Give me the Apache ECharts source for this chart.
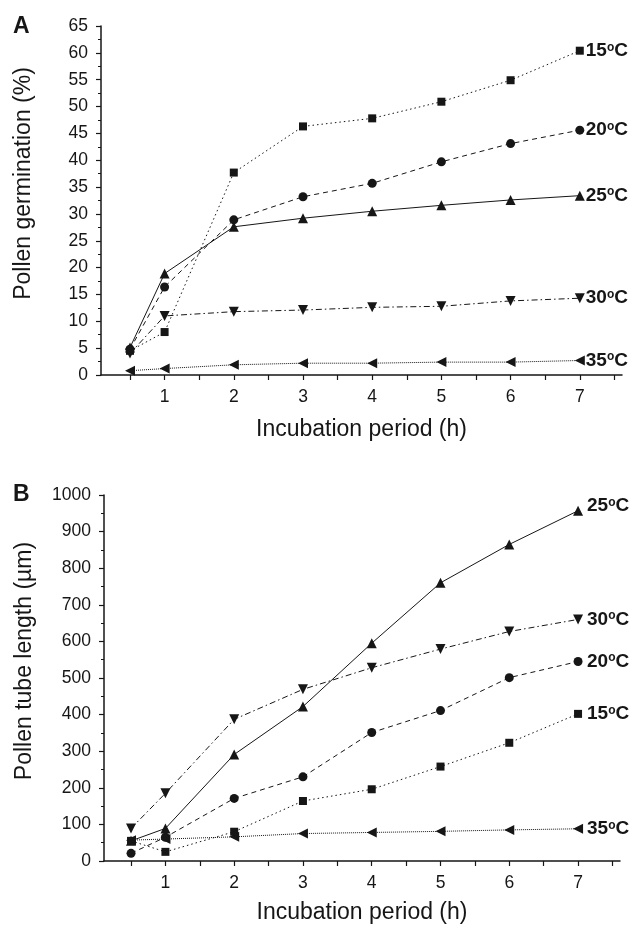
<!DOCTYPE html>
<html>
<head>
<meta charset="utf-8">
<script src="https://cdn.jsdelivr.net/npm/echarts@6/dist/echarts.min.js"></script>
<style>
  html, body { margin: 0; background: #fff; }
  #chart { width: 630px; height: 927px; }
</style>
</head>
<body>
<div id="chart"></div>
<script>
// incubation hours
const hours = [0.5, 1, 2, 3, 4, 5, 6, 7];
const xTicks = [0.5, 1, 1.5, 2, 2.5, 3, 3.5, 4, 4.5, 5, 5.5, 6, 6.5, 7, 7.5];
const xLabels = [1, 2, 3, 4, 5, 6, 7];

// A: pollen germination (%)
const germ15 = [4.5, 8, 37.7, 46.3, 47.8, 50.9, 54.9, 60.4];
const germ20 = [4.8, 16.4, 28.9, 33.2, 35.7, 39.7, 43.1, 45.6];
const germ25 = [5.1, 18.9, 27.6, 29.2, 30.5, 31.6, 32.6, 33.4];
const germ30 = [4.0, 11.0, 11.8, 12.1, 12.6, 12.8, 13.8, 14.3];
const germ35 = [0.8, 1.2, 1.9, 2.2, 2.2, 2.4, 2.4, 2.7];

// B: pollen tube length (µm)
const tube15 = [55, 25, 80, 164, 196, 258, 323, 402];
const tube20 = [21, 65, 171, 230, 351, 411, 501, 545];
const tube25 = [55, 89, 291, 422, 595, 760, 865, 957];
const tube30 = [89, 185, 387, 469, 528, 579, 627, 660];
const tube35 = [57, 60, 66, 75, 78, 81, 85, 88];

const FONT = '"Liberation Sans", Arial, Helvetica, sans-serif';
const INK = '#161616';

// marker + dash per temperature
const styles = {
    '15': { symbol: 'rect', size: 8, rotate: 0, dash: [1.5, 3] },
    '20': { symbol: 'circle', size: 9, rotate: 0, dash: [5, 4] },
    '25': { symbol: 'triangle', size: 10, rotate: 0, dash: 'solid' },
    '30': { symbol: 'triangle', size: 10, rotate: 180, dash: [6, 3, 1.5, 3] },
    '35': { symbol: 'triangle', size: 10, rotate: 90, dash: [1, 1] }
};

const makeSeries = (grid, temp, vals, dist, offset) => {
    const s = styles[temp];
    return {
        type: 'line',
        xAxisIndex: grid,
        yAxisIndex: grid,
        data: hours.map((h, i) => [h, vals[i]]),
        symbol: s.symbol,
        symbolSize: s.size,
        symbolRotate: s.rotate,
        showAllSymbol: true,
        animation: false,
        lineStyle: { color: INK, width: 1, type: s.dash },
        itemStyle: { color: INK },
        endLabel: {
            show: true,
            distance: dist,
            offset: offset || [0, 0],
            formatter: '{t|' + temp + '}{s|o}{t|C}',
            rich: {
                t: { fontSize: 19, fontWeight: 'bold', color: INK, fontFamily: FONT },
                s: { fontSize: 12, fontWeight: 'bold', color: INK, fontFamily: FONT, verticalAlign: 'top' }
            }
        }
    };
};

const xAxisBase = (grid, min) => ({
    gridIndex: grid,
    type: 'value',
    min: min,
    max: 7.61,
    axisLine: { show: true, lineStyle: { color: INK, width: 1.5 } },
    axisTick: { show: true, customValues: xTicks, length: 5, lineStyle: { color: INK, width: 1.2 } },
    axisLabel: { customValues: xLabels, fontSize: 17.5, color: INK, fontFamily: FONT, margin: 13 },
    splitLine: { show: false },
    name: 'Incubation period (h)',
    nameLocation: 'middle',
    nameTextStyle: { fontSize: 23, color: INK, fontFamily: FONT }
});

const yAxisBase = (grid, max, interval, title, gap) => ({
    gridIndex: grid,
    type: 'value',
    min: 0,
    max: max,
    interval: interval,
    axisLine: { show: true, lineStyle: { color: INK, width: 1.5 } },
    axisTick: { show: true, length: 5, lineStyle: { color: INK, width: 1.2 } },
    minorTick: { show: true, splitNumber: 2, length: 3, lineStyle: { color: INK, width: 1 } },
    axisLabel: { fontSize: 17.5, color: INK, fontFamily: FONT, margin: 13, formatter: (v) => String(v) },
    splitLine: { show: false },
    name: title,
    nameLocation: 'middle',
    nameGap: gap,
    nameTextStyle: { fontSize: 23, color: INK, fontFamily: FONT, padding: [0, 0, 0, 34] }
});

const chart = echarts.init(document.getElementById('chart'));
chart.setOption({
    backgroundColor: '#fff',
    animation: false,
    grid: [
        { left: 101, top: 26, width: 521, height: 349 },
        { left: 104, top: 495, width: 516, height: 366 }
    ],
    xAxis: [
        Object.assign(xAxisBase(0, 0.081), { nameGap: 43 }),
        Object.assign(xAxisBase(1, 0.107), { nameGap: 40 })
    ],
    yAxis: [
        yAxisBase(0, 65, 5, 'Pollen germination (%)', 66),
        yAxisBase(1, 1000, 100, 'Pollen tube length (\u00b5m)', 68)
    ],
    graphic: [
        { type: 'text', left: 13, top: 15, style: { text: 'A', fontSize: 23, fontWeight: 'bold', fill: INK, fontFamily: FONT } },
        { type: 'text', left: 13, top: 483, style: { text: 'B', fontSize: 23, fontWeight: 'bold', fill: INK, fontFamily: FONT } }
    ],
    series: [
        makeSeries(0, '35', germ35, 6),
        makeSeries(0, '30', germ30, 6),
        makeSeries(0, '15', germ15, 6),
        makeSeries(0, '20', germ20, 6),
        makeSeries(0, '25', germ25, 6),
        makeSeries(1, '35', tube35, 9),
        makeSeries(1, '15', tube15, 9),
        makeSeries(1, '20', tube20, 9),
        makeSeries(1, '30', tube30, 9),
        makeSeries(1, '25', tube25, 9, [0, -5])
    ]
});
</script>
</body>
</html>
